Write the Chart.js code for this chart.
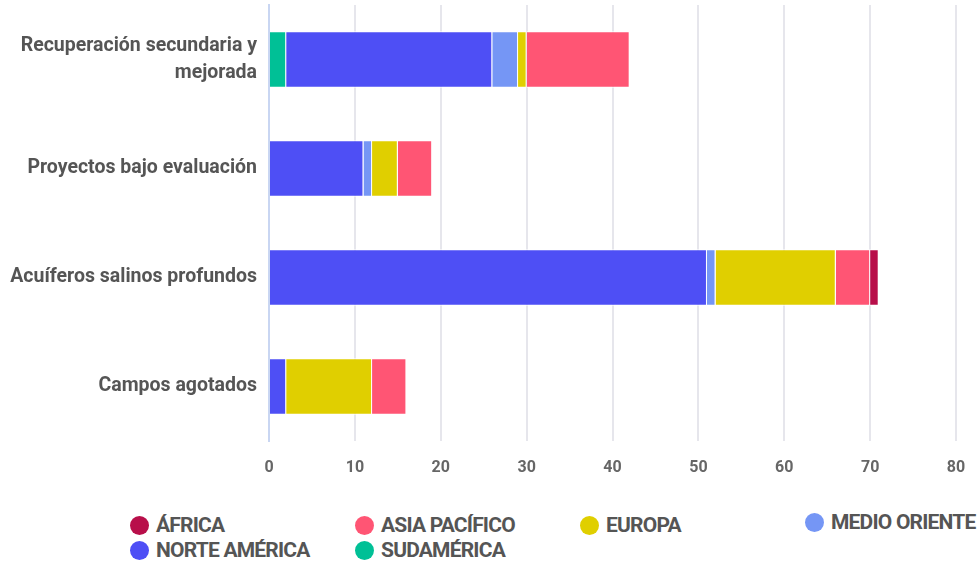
<!DOCTYPE html>
<html>
<head>
<meta charset="utf-8">
<script src="https://cdn.jsdelivr.net/npm/chart.js@4/dist/chart.umd.min.js"></script>
<style>
  html, body { margin: 0; padding: 0; background: #fff; }
  #wrap { position: relative; width: 977px; height: 500px; }
  #legend {
    position: absolute; left: 130px; top: 514px;
    display: grid; grid-template-columns: 225px 225px 225px 225px;
    row-gap: 3px;
    font-family: Roboto, "Liberation Sans", sans-serif; font-weight: bold;
    font-size: 21px; color: #555; letter-spacing: -0.8px;
  }
  #legend div { display: flex; align-items: center; height: 22px; position: relative; }
  #legend span.dot { width: 19px; height: 19px; border-radius: 50%; margin-right: 7px; display: inline-block; flex: none; }
</style>
</head>
<body>
<div id="wrap"><canvas id="chart" width="977" height="500"></canvas></div>
<div id="legend"></div>
<script>
var categories = [
  ["Recuperación secundaria y", "mejorada"],
  "Proyectos bajo evaluación",
  "Acuíferos salinos profundos",
  "Campos agotados"
];
var xTicks = [0, 10, 20, 30, 40, 50, 60, 70, 80];

// stacked left to right
var sudamerica = [2, 0, 0, 0];
var norteAmerica = [24, 11, 51, 2];
var medioOriente = [3, 1, 1, 0];
var europa = [1, 3, 14, 10];
var asiaPacifico = [12, 4, 4, 4];
var africa = [0, 0, 1, 0];

var series = [
  { label: "SUDAMÉRICA", data: sudamerica, color: "#00c096" },
  { label: "NORTE AMÉRICA", data: norteAmerica, color: "#4e4ff5" },
  { label: "MEDIO ORIENTE", data: medioOriente, color: "#7596f5" },
  { label: "EUROPA", data: europa, color: "#e0cf00" },
  { label: "ASIA PACÍFICO", data: asiaPacifico, color: "#ff5574" },
  { label: "ÁFRICA", data: africa, color: "#b80f4a" }
];

var ctx = document.getElementById("chart").getContext("2d");
var chart = new Chart(ctx, {
  type: "bar",
  data: {
    labels: categories,
    datasets: series.map(function (s) {
      return {
        label: s.label,
        data: s.data,
        backgroundColor: s.color,
        borderColor: "#ffffff",
        borderWidth: 1,
        categoryPercentage: 0.81,
        barPercentage: 0.64
      };
    })
  },
  options: {
    indexAxis: "y",
    responsive: false,
    animation: false,
    layout: { padding: { top: 5, right: 21, left: 0, bottom: 0 } },
    plugins: {
      legend: { display: false },
      tooltip: { enabled: false }
    },
    scales: {
      x: {
        stacked: true,
        min: 0,
        max: 80,
        afterBuildTicks: function (axis) {
          axis.ticks = xTicks.map(function (v) { return { value: v }; });
        },
        afterFit: function (axis) {
          axis.height = 59;
          axis.paddingLeft = 0;
          axis.paddingRight = 0;
        },
        grid: { color: "#e6e6ec", lineWidth: 2, drawTicks: false },
        border: { display: false },
        ticks: {
          padding: 17,
          color: "#666",
          font: { family: "Roboto", size: 16, weight: "bold" }
        }
      },
      y: {
        stacked: true,
        afterFit: function (axis) {
          axis.width = 269;
          axis.paddingTop = 0;
          axis.paddingBottom = 0;
        },
        grid: { display: false, drawTicks: false },
        border: { display: true, color: "#c9d6f2", width: 2 },
        ticks: {
          padding: 12,
          color: "#555",
          font: { family: "Roboto", size: 19.5, weight: "bold", lineHeight: 1.35 }
        }
      }
    }
  }
});

// legend in the reference order
var legend = document.getElementById("legend");
series.slice().reverse().forEach(function (s) {
  var item = document.createElement("div");
  if (s.label === "MEDIO ORIENTE") item.style.top = "-3px";
  var dot = document.createElement("span");
  dot.className = "dot";
  dot.style.background = s.color;
  item.appendChild(dot);
  item.appendChild(document.createTextNode(s.label));
  legend.appendChild(item);
});
</script>
</body>
</html>
